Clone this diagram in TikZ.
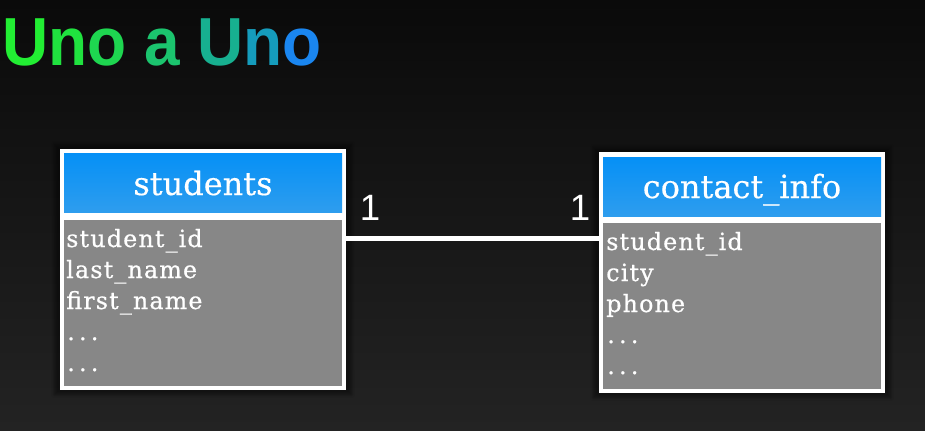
\documentclass[tikz,border=0pt]{standalone}
\usepackage{fontspec}
\setmainfont{DejaVu Serif}
\newfontfamily\titlefont{Liberation Sans}
\newfontfamily\bodyfont[LetterSpace=5,FakeBold=0.6]{DejaVu Serif}
\newfontfamily\headfont[FakeBold=0.4]{DejaVu Serif}
\newfontfamily\numfont{Liberation Sans}
\usetikzlibrary{shadows.blur}
\definecolor{bgtop}{HTML}{0A0A0A}
\definecolor{bgbot}{HTML}{232323}
\definecolor{hdtop}{HTML}{0590F6}
\definecolor{hdbot}{HTML}{2E9DEE}
\definecolor{bodygray}{HTML}{878787}
\definecolor{tA}{HTML}{22EE33}
\definecolor{tB}{HTML}{20E23F}
\definecolor{tC}{HTML}{1ED650}
\definecolor{tD}{HTML}{1BC46E}
\definecolor{tE}{HTML}{17B090}
\definecolor{tF}{HTML}{159CBC}
\definecolor{tH}{HTML}{1A86F0}
\newcommand{\rowdots}{.\kern3.2pt.\kern3.2pt.}
\tikzset{
  frame/.style={fill=white, draw=none, minimum width=214.5pt, minimum height=180.75pt, inner sep=0,
    blur shadow={shadow xshift=0pt, shadow yshift=0pt, shadow scale=1.04, shadow blur steps=12, shadow opacity=45}},
  header/.style={top color=hdtop, bottom color=hdbot, draw=none, minimum width=208.5pt, minimum height=44.25pt, inner sep=0},
  body/.style={fill=bodygray, draw=none, minimum width=208.5pt, minimum height=124.5pt, inner sep=0},
  headtext/.style={text=white, inner sep=0, font=\headfont\fontsize{24}{26}\selectfont},
  row/.style={text=white, inner sep=0, anchor=base west, font=\bodyfont\fontsize{17.8}{20}\selectfont},
  card/.style={text=white, inner sep=0, anchor=base, font=\numfont\fontsize{27.5}{30}\selectfont},
  link/.style={draw=white, line width=3.4pt}
}
\begin{document}
\begin{tikzpicture}[x=0.75pt, y=-0.75pt]
\useasboundingbox (0,0) rectangle (925,430);
\shade[top color=bgtop, bottom color=bgbot] (0,0) rectangle (925,430);
% title
\node[anchor=base west, inner sep=0, font=\titlefont\bfseries\fontsize{51}{56}\selectfont] (title) at (2,65)
  {\scalebox{0.94}[1]{\textcolor{tA}{U}\textcolor{tB}{n}\textcolor{tC}{o} \textcolor{tD}{a} \textcolor{tE}{U}\textcolor{tF}{n}\textcolor{tH}{o}}};
% students table
\node[frame] (sframe) at (203,269.5) {};
\node[header] (shead) at (203,182.5) {};
\node[body] (sbody) at (203,303) {};
\node[headtext, anchor=base] (stitle) at (203,195) {students};
\node[row] (s1) at (66,247) {student\_id};
\node[row] (s2) at (66,278) {last\_name};
\node[row] (s3) at (66,309) {first\_name};
\node[row] (s4) at (67,340) {\rowdots};
\node[row] (s5) at (67,371) {\rowdots};
% contact_info table
\node[frame] (cframe) at (742,272.5) {};
\node[header] (chead) at (742,186.5) {};
\node[body] (cbody) at (742,306) {};
\node[headtext, anchor=base] (ctitle) at (742,198) {contact\_info};
\node[row] (c1) at (606,250) {student\_id};
\node[row] (c2) at (606,281) {city};
\node[row] (c3) at (606,312) {phone};
\node[row] (c4) at (607,343) {\rowdots};
\node[row] (c5) at (607,374) {\rowdots};
% relation
\coordinate (ly) at (0,238.5);
\draw[link] (sframe.east |- ly) -- (cframe.west |- ly);
\node[card] (n1) at (370,220) {1};
\node[card] (n2) at (580,220) {1};
\end{tikzpicture}
\end{document}
